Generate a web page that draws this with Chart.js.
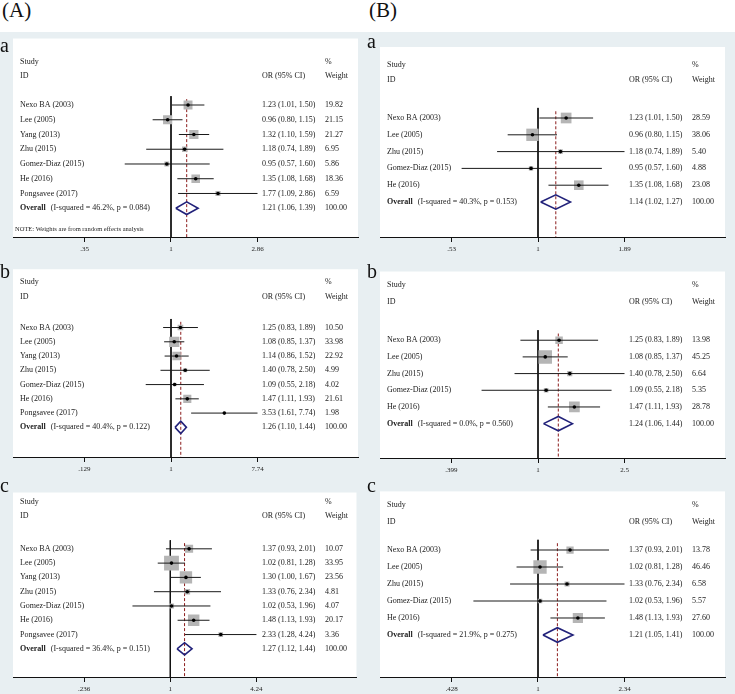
<!DOCTYPE html>
<html>
<head>
<meta charset="utf-8">
<title>Forest plots</title>
<script src="https://cdn.jsdelivr.net/npm/chart.js@4/dist/chart.umd.min.js"></script>
<style>
  html, body { margin: 0; padding: 0; background: #fff; }
  #fig { position: relative; width: 735px; height: 694px; overflow: hidden;
         font-family: "Liberation Serif", "Times New Roman", serif; }
  #bg { position: absolute; left: 0; top: 32px; width: 735px; height: 662px; background: #e8eff2; }
  .col-title { position: absolute; top: 0; font-size: 21px; line-height: 21px; color: #111; }
  canvas { position: absolute; }
</style>
</head>
<body>
<div id="fig">
  <div id="bg"></div>
  <div class="col-title" style="left:2px">(A)</div>
  <div class="col-title" style="left:369px">(B)</div>
</div>
<script>
// ---- data -------------------------------------------------------------
const studies7 = ["Nexo BA (2003)", "Lee (2005)", "Yang (2013)", "Zhu (2015)",
                  "Gomez-Diaz (2015)", "He (2016)", "Pongsavee (2017)"];
const studies5 = ["Nexo BA (2003)", "Lee (2005)", "Zhu (2015)",
                  "Gomez-Diaz (2015)", "He (2016)"];

// (A) a
const orAa = [1.23, 0.96, 1.32, 1.18, 0.95, 1.35, 1.77];
const loAa = [1.01, 0.80, 1.10, 0.74, 0.57, 1.08, 1.09];
const hiAa = [1.50, 1.15, 1.59, 1.89, 1.60, 1.68, 2.86];
const wtAa = [19.82, 21.15, 21.27, 6.95, 5.86, 18.36, 6.59];
const pooledAa = [1.21, 1.06, 1.39];
const hetAa = ["46.2%", "0.084"];
const ticksAa = [".35", "1", "2.86"];

// (A) b
const orAb = [1.25, 1.08, 1.14, 1.40, 1.09, 1.47, 3.53];
const loAb = [0.83, 0.85, 0.86, 0.78, 0.55, 1.11, 1.61];
const hiAb = [1.89, 1.37, 1.52, 2.50, 2.18, 1.93, 7.74];
const wtAb = [10.50, 33.98, 22.92, 4.99, 4.02, 21.61, 1.98];
const pooledAb = [1.26, 1.10, 1.44];
const hetAb = ["40.4%", "0.122"];
const ticksAb = [".129", "1", "7.74"];

// (A) c
const orAc = [1.37, 1.02, 1.30, 1.33, 1.02, 1.48, 2.33];
const loAc = [0.93, 0.81, 1.00, 0.76, 0.53, 1.13, 1.28];
const hiAc = [2.01, 1.28, 1.67, 2.34, 1.96, 1.93, 4.24];
const wtAc = [10.07, 33.95, 23.56, 4.81, 4.07, 20.17, 3.36];
const pooledAc = [1.27, 1.12, 1.44];
const hetAc = ["36.4%", "0.151"];
const ticksAc = [".236", "1", "4.24"];

// (B) a
const orBa = [1.23, 0.96, 1.18, 0.95, 1.35];
const loBa = [1.01, 0.80, 0.74, 0.57, 1.08];
const hiBa = [1.50, 1.15, 1.89, 1.60, 1.68];
const wtBa = [28.59, 38.06, 5.40, 4.88, 23.08];
const pooledBa = [1.14, 1.02, 1.27];
const hetBa = ["40.3%", "0.153"];
const ticksBa = [".53", "1", "1.89"];

// (B) b
const orBb = [1.25, 1.08, 1.40, 1.09, 1.47];
const loBb = [0.83, 0.85, 0.78, 0.55, 1.11];
const hiBb = [1.89, 1.37, 2.50, 2.18, 1.93];
const wtBb = [13.98, 45.25, 6.64, 5.35, 28.78];
const pooledBb = [1.24, 1.06, 1.44];
const hetBb = ["0.0%", "0.560"];
const ticksBb = [".399", "1", "2.5"];

// (B) c
const orBc = [1.37, 1.02, 1.33, 1.02, 1.48];
const loBc = [0.93, 0.81, 0.76, 0.53, 1.13];
const hiBc = [2.01, 1.28, 2.34, 1.96, 1.93];
const wtBc = [13.78, 46.46, 6.58, 5.57, 27.60];
const pooledBc = [1.21, 1.05, 1.41];
const hetBc = ["21.9%", "0.275"];
const ticksBc = [".428", "1", "2.34"];

// ---- style ------------------------------------------------------------
const SERIF = '"Liberation Serif", "Times New Roman", serif';
const INK = "#222";
const BOX = "#b5b5b5";
const NAVY = "#22227a";
const DASH_RED = "#8b1c1c";
const AXIS_H = 16;
// where "1" and the outer ticks sit, as a fraction of the plot width (Stata layout)
const POS_ONE = 158 / 345;
const TICK_SPAN = 86.5 / 345;

// page layout: cell = canvas rect, box = white plot region, rows = [first study px, overall px],
// head = [Study/% px, ID/Weight px], k = box side per sqrt(weight)
const PANELS = [
  { id: "Aa", letter: "a", x: 0, y: 32, w: 367, h: 230, box: [13, 37, 358, 237], rows: [104, 208],
    head: [62, 76], letterBase: 52, k: 2.0, note: 229,
    studies: studies7, or: orAa, lo: loAa, hi: hiAa, wt: wtAa, pooled: pooledAa, het: hetAa, ticks: ticksAa },
  { id: "Ab", letter: "b", x: 0, y: 262, w: 367, h: 220, box: [13, 267, 358, 457], rows: [326, 427],
    head: [282, 297], letterBase: 278, k: 1.75,
    studies: studies7, or: orAb, lo: loAb, hi: hiAb, wt: wtAb, pooled: pooledAb, het: hetAb, ticks: ticksAb },
  { id: "Ac", letter: "c", x: 0, y: 482, w: 367, h: 212, box: [13, 487, 358, 677], rows: [545, 648],
    head: [502, 516], letterBase: 492, k: 2.55,
    studies: studies7, or: orAc, lo: loAc, hi: hiAc, wt: wtAc, pooled: pooledAc, het: hetAc, ticks: ticksAc },
  { id: "Ba", letter: "a", x: 367, y: 32, w: 368, h: 230, box: [380, 47, 725, 237], rows: [118, 202],
    head: [65, 80], letterBase: 48, k: 2.0,
    studies: studies5, or: orBa, lo: loBa, hi: hiBa, wt: wtBa, pooled: pooledBa, het: hetBa, ticks: ticksBa },
  { id: "Bb", letter: "b", x: 367, y: 262, w: 368, h: 220, box: [380, 268, 725, 458], rows: [338, 423],
    head: [285, 302], letterBase: 278, k: 2.0,
    studies: studies5, or: orBb, lo: loBb, hi: hiBb, wt: wtBb, pooled: pooledBb, het: hetBb, ticks: ticksBb },
  { id: "Bc", letter: "c", x: 367, y: 482, w: 368, h: 212, box: [380, 487, 725, 677], rows: [547, 634],
    head: [505, 522], letterBase: 492, k: 1.95,
    studies: studies5, or: orBc, lo: loBc, hi: hiBc, wt: wtBc, pooled: pooledBc, het: hetBc, ticks: ticksBc },
];

const f2 = (v) => v.toFixed(2);
const ciText = (o, l, h) => `${f2(o)} (${f2(l)}, ${f2(h)})`;

// White plot region + all the text columns of a Stata-style forest plot.
function forestPlugin(p) {
  return {
    id: "forest",
    beforeDraw(chart) {
      const { ctx, chartArea: a } = chart;
      ctx.save();
      ctx.fillStyle = "#fff";
      ctx.fillRect(a.left, a.top, a.right - a.left, a.bottom - a.top);
      ctx.restore();
    },
    afterDraw(chart) {
      const { ctx, chartArea: a } = chart;
      const ys = chart.scales.y;
      const colName = a.left + 7, colCI = a.left + 249, colW = a.left + 312;
      const n = p.studies.length;
      ctx.save();
      ctx.fillStyle = "#111";
      ctx.textBaseline = "alphabetic";
      ctx.font = `20px ${SERIF}`;
      ctx.fillText(p.letter, 0, p.letterBase - p.y);

      ctx.fillStyle = INK;
      ctx.textBaseline = "middle";
      ctx.font = `8px ${SERIF}`;
      const h0 = p.head[0] - p.y, h1 = p.head[1] - p.y;
      ctx.fillText("Study", colName, h0);
      ctx.fillText("ID", colName, h1);
      ctx.fillText("%", colW, h0);
      ctx.fillText("Weight", colW, h1);
      ctx.fillText("OR (95% CI)", colCI, h1);

      p.studies.forEach((s, i) => {
        const y = ys.getPixelForValue(i + 1);
        ctx.fillText(s, colName, y);
        ctx.fillText(ciText(p.or[i], p.lo[i], p.hi[i]), colCI, y);
        ctx.fillText(f2(p.wt[i]), colW, y);
      });

      const yo = ys.getPixelForValue(n + 1);
      ctx.font = `bold 8px ${SERIF}`;
      ctx.fillText("Overall", colName, yo);
      const ow = ctx.measureText("Overall").width;
      ctx.font = `8px ${SERIF}`;
      ctx.fillText(`(I-squared = ${p.het[0]}, p = ${p.het[1]})`, colName + ow + 5, yo);
      ctx.fillText(ciText(p.pooled[0], p.pooled[1], p.pooled[2]), colCI, yo);
      ctx.fillText("100.00", colW, yo);

      if (p.note) {
        ctx.font = `6.5px ${SERIF}`;
        ctx.fillText("NOTE: Weights are from random effects analysis", a.left + 2, p.note - p.y);
      }
      ctx.restore();
    },
  };
}

function makeForest(p) {
  const canvas = document.createElement("canvas");
  canvas.width = p.w;
  canvas.height = p.h;
  canvas.style.left = p.x + "px";
  canvas.style.top = p.y + "px";
  document.getElementById("fig").appendChild(canvas);

  const n = p.studies.length;
  const [bl, bt, br, bb] = p.box;
  const pitch = (p.rows[1] - p.rows[0]) / n;
  const yMin = 1 - (p.rows[0] - bt) / pitch;
  const yMax = n + 1 + (bb - p.rows[1]) / pitch;

  const tickVals = p.ticks.map(parseFloat);
  const L = Math.log(tickVals[2]);
  const xMin = Math.exp(-POS_ONE / TICK_SPAN * L);
  const xMax = Math.exp((1 - POS_ONE) / TICK_SPAN * L);

  const line = (pts, color, width, extra = {}) => ({
    data: pts, showLine: true, borderColor: color, borderWidth: width,
    pointRadius: 0, fill: false, tension: 0, ...extra,
  });

  const datasets = [
    line([{ x: 1, y: 0.4 }, { x: 1, y: yMax }], "#111", 1, { order: 6 }),
    line([{ x: p.pooled[0], y: 0.6 }, { x: p.pooled[0], y: yMax }], DASH_RED, 1,
         { borderDash: [3, 2], order: 5 }),
    {
      data: p.or.map((v, i) => ({ x: v, y: i + 1 })),
      pointStyle: "rect",
      pointRadius: p.wt.map((w) => (p.k * Math.sqrt(w)) / Math.SQRT2),
      backgroundColor: BOX, borderWidth: 0, order: 4,
    },
    ...p.studies.map((_, i) =>
      line([{ x: p.lo[i], y: i + 1 }, { x: p.hi[i], y: i + 1 }], "#1a1a1a", 1, { order: 3 })),
    line([
      { x: p.pooled[1], y: n + 1 },
      { x: p.pooled[0], y: n + 1 - 0.43 },
      { x: p.pooled[2], y: n + 1 },
      { x: p.pooled[0], y: n + 1 + 0.43 },
      { x: p.pooled[1], y: n + 1 },
    ], NAVY, 1.6, { order: 2 }),
    {
      data: p.or.map((v, i) => ({ x: v, y: i + 1 })),
      pointStyle: "circle", pointRadius: 1.8, backgroundColor: "#000", borderWidth: 0, order: 1,
    },
  ];

  return new Chart(canvas, {
    type: "scatter",
    data: { datasets },
    options: {
      responsive: false,
      animation: false,
      events: [],
      layout: { padding: { left: bl - p.x, right: p.x + p.w - br, top: bt - p.y, bottom: p.y + p.h - bb - AXIS_H } },
      plugins: { legend: { display: false }, tooltip: { enabled: false } },
      scales: {
        x: {
          type: "logarithmic",
          bounds: "data",
          min: xMin,
          max: xMax,
          afterBuildTicks(scale) { scale.ticks = tickVals.map((v) => ({ value: v })); },
          afterFit(scale) { scale.height = AXIS_H; },
          ticks: {
            autoSkip: false, maxRotation: 0, padding: 3, color: INK,
            font: { family: SERIF, size: 7 },
            callback: (v, i) => p.ticks[i],
          },
          grid: { drawOnChartArea: false, drawTicks: true, tickLength: 5, color: "#111", lineWidth: 1 },
          border: { display: true, color: "#111", width: 1 },
        },
        y: { type: "linear", reverse: true, min: yMin, max: yMax, display: false },
      },
    },
    plugins: [forestPlugin(p)],
  });
}

PANELS.forEach(makeForest);
</script>
</body>
</html>
